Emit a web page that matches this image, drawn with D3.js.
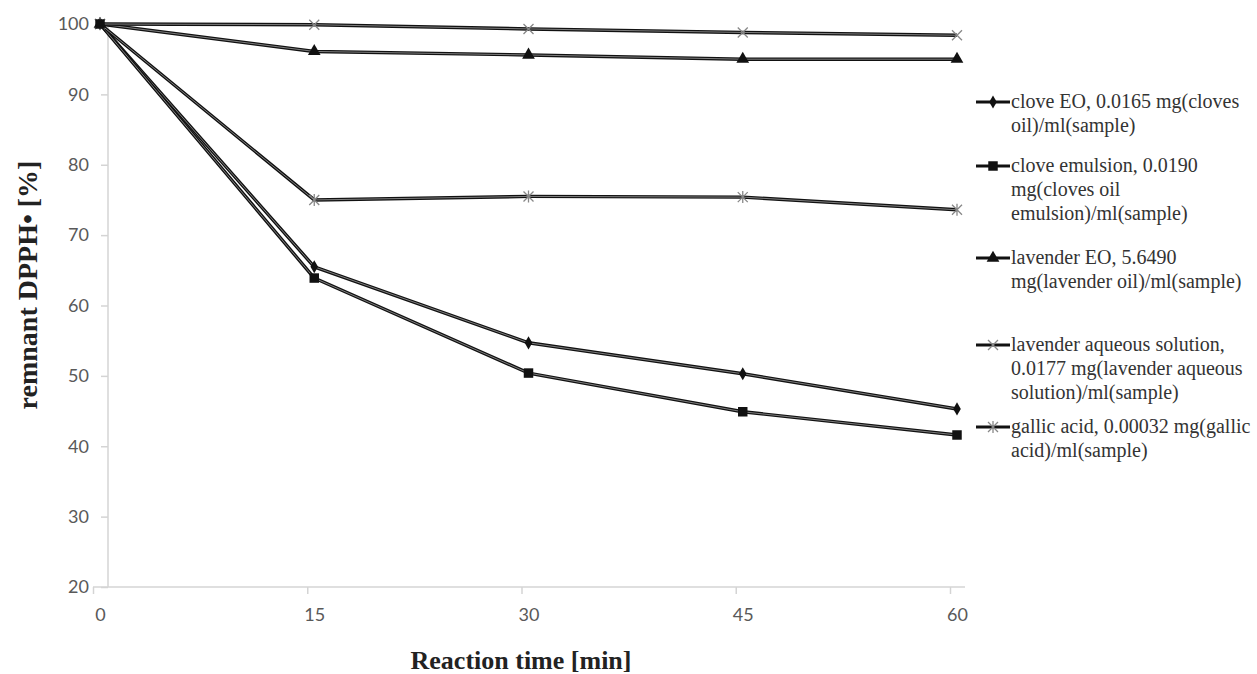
<!DOCTYPE html>
<html>
<head>
<meta charset="utf-8">
<script src="https://cdn.jsdelivr.net/npm/d3@7"></script>
<style>
  body { margin: 0; background: #fff; }
  svg { display: block; }
</style>
</head>
<body>
<div id="chart-area"></div>
<script>
// data
var times = [0, 15, 30, 45, 60];
var cloveEO = [100, 65.5, 54.7, 50.3, 45.3];
var cloveEmulsion = [100, 63.9, 50.4, 44.9, 41.6];
var lavenderEO = [100, 96.1, 95.6, 95.0, 95.0];
var lavenderAqueous = [100, 99.9, 99.3, 98.8, 98.4];
var gallicAcid = [100, 75.0, 75.5, 75.4, 73.6];
var yTicks = [20, 30, 40, 50, 60, 70, 80, 90, 100];

var seriesNames = [
  ["clove EO, 0.0165 mg(cloves", "oil)/ml(sample)"],
  ["clove emulsion, 0.0190", "mg(cloves oil", "emulsion)/ml(sample)"],
  ["lavender EO, 5.6490", "mg(lavender oil)/ml(sample)"],
  ["lavender aqueous solution,", "0.0177 mg(lavender aqueous", "solution)/ml(sample)"],
  ["gallic acid, 0.00032 mg(gallic", "acid)/ml(sample)"]
];
var seriesValues = [cloveEO, cloveEmulsion, lavenderEO, lavenderAqueous, gallicAcid];
var markers = ["diamond", "square", "triangle", "x", "star"];

var series = seriesValues.map((vals, i) => {
  return {name: seriesNames[i], marker: markers[i],
          points: vals.map((v, j) => ({t: times[j], v: v}))};
});

var width = 1257, height = 674;
var svg = d3.select("#chart-area").append("svg")
    .attr("width", width)
    .attr("height", height);

var x = d3.scaleLinear().domain([0, 60]).range([100, 957]);
var y = d3.scaleLinear().domain([20, 100]).range([587, 24]);

var axisColor = "#d4d4d4";
var labelFont = "Lato, 'Open Sans', sans-serif";
var serif = "'Liberation Serif', 'Times New Roman', serif";

// y axis
var leftAxis = d3.axisLeft(y).tickValues(yTicks).tickSize(7).tickPadding(12);
var gy = svg.append("g")
    .attr("transform", "translate(108,0)")
    .call(leftAxis);
gy.select(".domain").remove();
gy.append("line").attr("x1", 0).attr("x2", 0).attr("y1", y(100)).attr("y2", y(20))
    .attr("stroke", axisColor).attr("stroke-width", 1.5);
gy.selectAll(".tick line").attr("stroke", axisColor).attr("stroke-width", 1.5);
gy.selectAll("text")
    .attr("fill", "#595959")
    .style("font-family", labelFont)
    .style("font-size", "18px");

// x axis
var bottomAxis = d3.axisBottom(x).tickValues(times).tickSize(0).tickPadding(21);
var gx = svg.append("g")
    .attr("transform", "translate(0," + y(20) + ")")
    .call(bottomAxis);
gx.select(".domain").remove();
gx.append("line").attr("x1", 93).attr("x2", 965).attr("y1", 0).attr("y2", 0)
    .attr("stroke", axisColor).attr("stroke-width", 1.5);
gx.selectAll(".tick").append("line")
    .attr("x1", -7).attr("x2", -7).attr("y1", 0).attr("y2", 7)
    .attr("stroke", axisColor).attr("stroke-width", 1.5);
gx.selectAll("text")
    .attr("fill", "#595959")
    .style("font-family", labelFont)
    .style("font-size", "18px");

// axis titles
svg.append("text")
    .attr("x", 521)
    .attr("y", 669)
    .attr("text-anchor", "middle")
    .style("font-family", serif)
    .style("font-weight", "bold")
    .style("font-size", "26px")
    .attr("fill", "#222")
    .text("Reaction time [min]");

svg.append("text")
    .attr("transform", "translate(37,285) rotate(-90)")
    .attr("text-anchor", "middle")
    .style("font-family", serif)
    .style("font-weight", "bold")
    .style("font-size", "28px")
    .attr("fill", "#222")
    .text("remnant DPPH\u2022 [%]");

// marker drawing
function drawMarker(sel, type) {
  if (type === "diamond") {
    sel.append("path").attr("d", d3.symbol(d3.symbolDiamond, 50)).attr("fill", "#111");
  } else if (type === "square") {
    sel.append("path").attr("d", d3.symbol(d3.symbolSquare, 90)).attr("fill", "#111");
  } else if (type === "triangle") {
    sel.append("path").attr("d", d3.symbol(d3.symbolTriangle, 70)).attr("fill", "#111");
  } else if (type === "x") {
    sel.append("path").attr("d", "M-5,-5L5,5M-5,5L5,-5")
      .attr("stroke", "#888").attr("stroke-width", 1.3).attr("fill", "none");
  } else {
    sel.append("path").attr("d", "M-5,-5L5,5M-5,5L5,-5M0,-6L0,6")
      .attr("stroke", "#888").attr("stroke-width", 1.3).attr("fill", "none");
  }
}

var line = d3.line().x(d => x(d.t)).y(d => y(d.v));

var plot = svg.append("g");
series.forEach((s) => {
  plot.append("path")
      .datum(s.points)
      .attr("d", line)
      .attr("fill", "none")
      .attr("stroke", "#111")
      .attr("stroke-width", 3.4)
      .attr("stroke-linejoin", "round");
  plot.append("path")
      .datum(s.points)
      .attr("d", line)
      .attr("fill", "none")
      .attr("stroke", "#9a9a9a")
      .attr("stroke-width", 0.8);
});

// markers, emulsion squares last so the 0-min point shows a square
[0, 2, 3, 4, 1].forEach((i) => {
  var s = series[i];
  s.points.forEach((p) => {
    var m = plot.append("g").attr("transform", "translate(" + x(p.t) + "," + y(p.v) + ")");
    drawMarker(m, s.marker);
  });
});

// legend
var legendTops = [102, 166, 258, 345, 427];
var legend = svg.append("g");
series.forEach((s, i) => {
  var g = legend.append("g").attr("transform", "translate(0," + legendTops[i] + ")");
  g.append("line").attr("x1", 976).attr("x2", 1010).attr("y1", 0).attr("y2", 0)
      .attr("stroke", "#111").attr("stroke-width", 3);
  var m = g.append("g").attr("transform", "translate(993,0)");
  drawMarker(m, s.marker);
  s.name.forEach((ln, k) => {
    g.append("text")
        .attr("x", 1011)
        .attr("y", k * 24 + 6)
        .style("font-family", serif)
        .style("font-size", "20px")
        .attr("fill", "#333")
        .text(ln);
  });
});
</script>
</body>
</html>
